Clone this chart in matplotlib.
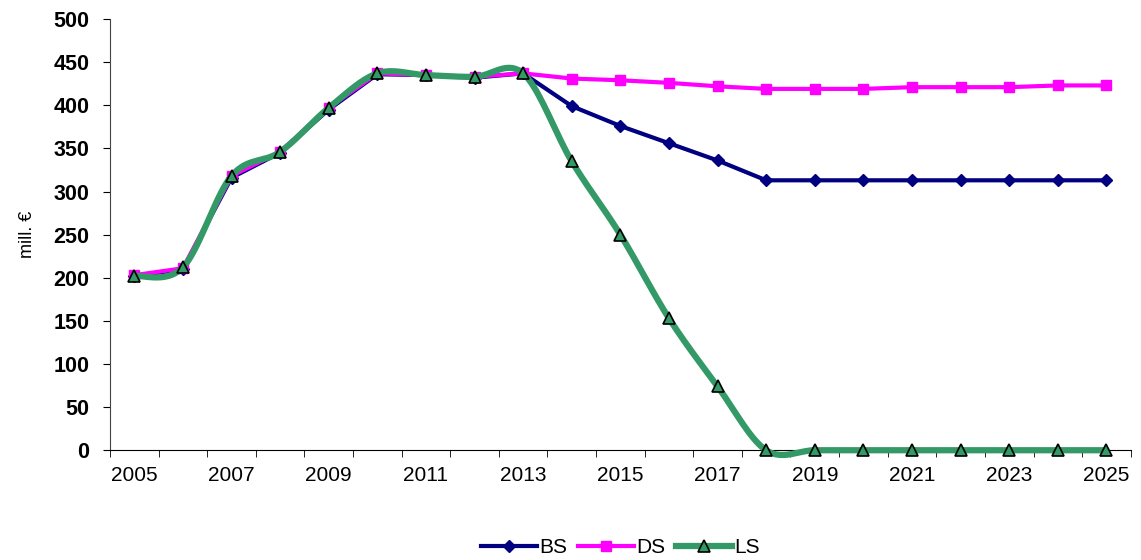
#libraries
import numpy as np
import matplotlib.pyplot as plt
from matplotlib.ticker import MultipleLocator, FixedLocator

plt.rcParams['font.family'] = ['Liberation Sans', 'DejaVu Sans']

#data
years = list(range(2005, 2026))
bs = [202, 210, 316, 345, 395, 436, 435, 432, 437, 399, 376, 356, 336, 313,
      313, 313, 313, 313, 313, 313, 313]
ds = [203, 211, 318, 346, 397, 437, 435, 433, 437, 431, 429, 426, 422, 419,
      419, 419, 421, 421, 421, 423, 423]
ls = [202, 212, 318, 346, 397, 437, 435, 433, 437, 335, 250, 153, 74, 0,
      0, 0, 0, 0, 0, 0, 0]


def smooth(x, y, n=20):
    # bezier smoothing like excel's smoothed line
    x = np.asarray(x, float)
    y = np.asarray(y, float)
    xs, ys = [], []
    for i in range(len(x) - 1):
        p0 = np.array([x[max(i - 1, 0)], y[max(i - 1, 0)]])
        p1 = np.array([x[i], y[i]])
        p2 = np.array([x[i + 1], y[i + 1]])
        p3 = np.array([x[min(i + 2, len(x) - 1)], y[min(i + 2, len(x) - 1)]])
        c1 = p1 + (p2 - p0) / 6
        c2 = p2 - (p3 - p1) / 6
        t = np.linspace(0, 1, n)[:, None]
        pts = ((1 - t) ** 3) * p1 + 3 * ((1 - t) ** 2) * t * c1 + 3 * (1 - t) * t ** 2 * c2 + t ** 3 * p2
        xs.extend(pts[:, 0])
        ys.extend(pts[:, 1])
    return xs, ys


fig = plt.figure(figsize=(11.41, 5.6), dpi=100)
ax = fig.add_axes([0.0964, 0.196, 0.8946, 0.770])

x = np.arange(len(years))
ax.plot(x, bs, color='#000080', lw=3, marker='D', ms=6, label='BS', zorder=3)
ax.plot(x, ds, color='#FF00FF', lw=3, marker='s', ms=7, label='DS', zorder=4)
sx, sy = smooth(x, ls)
ax.plot(sx, sy, color='#339966', lw=4.5, zorder=5, solid_capstyle='round', clip_on=False)
ax.plot(x, ls, ls='none', marker='^', ms=9, mfc='#339966', mec='black', mew=1.2,
        zorder=6, clip_on=False)
ax.plot([], [], color='#339966', lw=4.5, marker='^', ms=9, mfc='#339966', mec='black',
        mew=1.2, label='LS')

ax.set_xlim(-0.5, len(years) - 0.5)
ax.set_ylim(0, 500)
ax.yaxis.set_major_locator(MultipleLocator(50))
ax.set_xticks(x[::2])
ax.set_xticklabels([str(y) for y in years[::2]], fontsize=15)
ax.xaxis.set_minor_locator(FixedLocator(np.arange(-0.5, len(years), 1)))
ax.tick_params(axis='x', which='major', length=0, pad=11)
ax.tick_params(axis='x', which='minor', length=5, direction='out')
ax.tick_params(axis='y', length=5, direction='out', labelsize=15.5, pad=10)
for lab in ax.get_yticklabels():
    lab.set_fontweight('bold')
ax.set_ylabel('mill. €', fontsize=13, labelpad=12)

for s in ['top', 'right']:
    ax.spines[s].set_visible(False)
ax.spines['bottom'].set_color('black')
ax.spines['left'].set_color('#444444')

ax.legend(loc='upper center', bbox_to_anchor=(0.5, -0.16), ncol=3, frameon=False,
          fontsize=15, handlelength=2.7, handletextpad=0.1, columnspacing=0.5)

plt.savefig('out.png', dpi=100)
